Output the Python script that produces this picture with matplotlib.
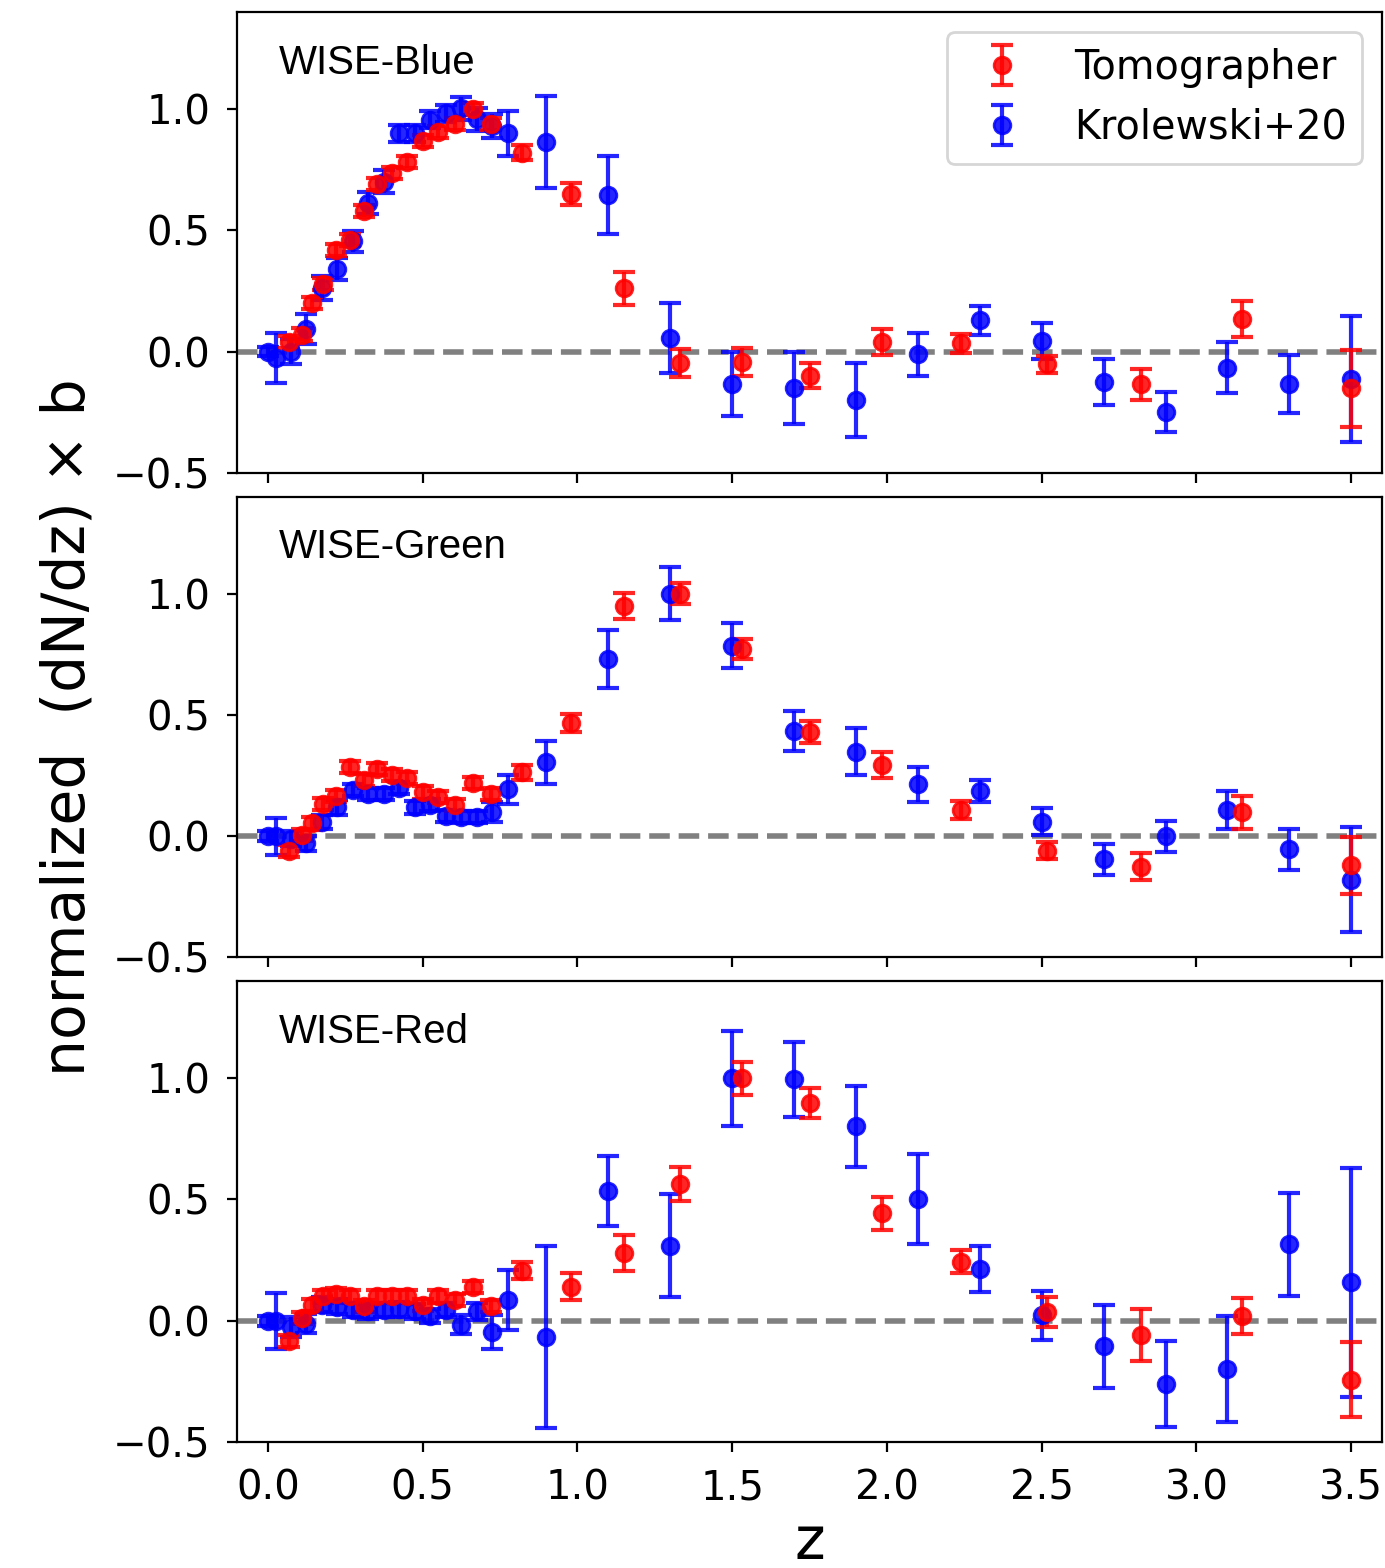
#! /usr/bin/env python

# wise_dndz.py
# Normalized dN/dz x b for the three WISE samples
# Tomographer vs Krolewski+20

import numpy as np
import matplotlib
matplotlib.use('Agg')
import matplotlib.pyplot as plt

# redshift bins
z_tomo = [0.067, 0.11, 0.142, 0.178, 0.221, 0.266, 0.31, 0.353, 0.40, 0.45,
          0.50, 0.55, 0.606, 0.663, 0.72, 0.82, 0.978, 1.15, 1.333, 1.532,
          1.75, 1.985, 2.24, 2.517, 2.82, 3.147, 3.5]
z_krol = [0.0, 0.025, 0.075, 0.125, 0.175, 0.225, 0.275, 0.325, 0.375, 0.425,
          0.475, 0.525, 0.575, 0.625, 0.675, 0.725, 0.775, 0.9, 1.1, 1.3,
          1.5, 1.7, 1.9, 2.1, 2.3, 2.5, 2.7, 2.9, 3.1, 3.3, 3.5]

# WISE-Blue
blue_tomo = [0.04, 0.07, 0.20, 0.28, 0.42, 0.46, 0.58, 0.69, 0.735, 0.78,
             0.87, 0.906, 0.937, 1.0, 0.94, 0.82, 0.65, 0.26, -0.047, -0.044,
             -0.099, 0.038, 0.033, -0.053, -0.136, 0.134, -0.152]
blue_tomo_err = [0.025, 0.025, 0.025, 0.025, 0.025, 0.025, 0.025, 0.025, 0.025, 0.025,
                 0.025, 0.025, 0.025, 0.025, 0.025, 0.032, 0.044, 0.067, 0.058, 0.057,
                 0.05, 0.053, 0.04, 0.036, 0.062, 0.073, 0.16]
blue_krol = [0.0, -0.026, 0.0, 0.093, 0.262, 0.34, 0.454, 0.614, 0.70, 0.90,
             0.90, 0.955, 0.982, 1.003, 0.958, 0.93, 0.90, 0.865, 0.646, 0.056,
             -0.133, -0.152, -0.2, -0.012, 0.128, 0.043, -0.125, -0.25, -0.067, -0.133, -0.115]
blue_krol_err = [0.02, 0.103, 0.05, 0.062, 0.05, 0.045, 0.042, 0.045, 0.048, 0.035,
                 0.035, 0.035, 0.035, 0.048, 0.048, 0.05, 0.093, 0.19, 0.16, 0.145,
                 0.133, 0.148, 0.152, 0.09, 0.06, 0.075, 0.094, 0.084, 0.106, 0.12, 0.26]

# WISE-Green
green_tomo = [-0.061, 0.004, 0.052, 0.132, 0.165, 0.284, 0.231, 0.276, 0.252, 0.238,
              0.18, 0.162, 0.128, 0.22, 0.174, 0.263, 0.466, 0.948, 1.0, 0.773,
              0.428, 0.293, 0.107, -0.06, -0.127, 0.098, -0.12]
green_tomo_err = [0.025, 0.025, 0.025, 0.025, 0.025, 0.025, 0.025, 0.025, 0.025, 0.025,
                  0.025, 0.025, 0.025, 0.025, 0.025, 0.03, 0.037, 0.053, 0.043, 0.042,
                  0.045, 0.053, 0.036, 0.034, 0.056, 0.067, 0.118]
green_krol = [0.0, 0.0, -0.01, -0.03, 0.059, 0.118, 0.19, 0.172, 0.172, 0.2,
              0.118, 0.13, 0.083, 0.08, 0.08, 0.1, 0.193, 0.304, 0.731, 1.0,
              0.785, 0.435, 0.348, 0.213, 0.186, 0.059, -0.096, 0.0, 0.107, -0.055, -0.179]
green_krol_err = [0.02, 0.076, 0.03, 0.03, 0.03, 0.03, 0.025, 0.025, 0.025, 0.025,
                  0.025, 0.025, 0.025, 0.025, 0.025, 0.04, 0.06, 0.09, 0.119, 0.11,
                  0.092, 0.083, 0.096, 0.074, 0.046, 0.055, 0.063, 0.064, 0.077, 0.084, 0.217]

# WISE-Red
red_tomo = [-0.085, 0.011, 0.066, 0.1, 0.11, 0.1, 0.059, 0.1, 0.1, 0.1,
            0.066, 0.1, 0.086, 0.139, 0.059, 0.206, 0.141, 0.279, 0.564, 1.0,
            0.898, 0.443, 0.244, 0.034, -0.058, 0.018, -0.243]
red_tomo_err = [0.025, 0.025, 0.025, 0.025, 0.025, 0.025, 0.025, 0.025, 0.025, 0.025,
                0.025, 0.025, 0.025, 0.025, 0.025, 0.036, 0.057, 0.075, 0.071, 0.069,
                0.062, 0.069, 0.049, 0.062, 0.108, 0.074, 0.154]
red_krol = [0.0, 0.0, -0.026, -0.012, 0.066, 0.058, 0.045, 0.038, 0.045, 0.047,
            0.038, 0.02, 0.045, -0.016, 0.038, -0.047, 0.084, -0.067, 0.535, 0.31,
            1.0, 0.995, 0.802, 0.502, 0.213, 0.022, -0.106, -0.261, -0.198, 0.315, 0.158]
red_krol_err = [0.02, 0.115, 0.04, 0.04, 0.03, 0.03, 0.03, 0.03, 0.03, 0.03,
                0.03, 0.03, 0.03, 0.04, 0.035, 0.07, 0.124, 0.376, 0.145, 0.213,
                0.195, 0.154, 0.168, 0.187, 0.094, 0.1, 0.17, 0.178, 0.218, 0.213, 0.473]

samples = ['WISE-Blue', 'WISE-Green', 'WISE-Red']
tomo = [blue_tomo, green_tomo, red_tomo]
tomo_err = [blue_tomo_err, green_tomo_err, red_tomo_err]
krol = [blue_krol, green_krol, red_krol]
krol_err = [blue_krol_err, green_krol_err, red_krol_err]

fig, axes = plt.subplots(3, 1, sharex=True, figsize=(6.925, 7.84), dpi=200)
fig.subplots_adjust(left=0.171, right=0.998, top=0.9923, bottom=0.0804, hspace=0.052)

for i, ax in enumerate(axes):
    hk = ax.errorbar(z_krol, krol[i], yerr=krol_err[i], fmt='o', color='blue',
                     ms=6, elinewidth=1.5, capsize=4, capthick=1.5, alpha=0.85,
                     label='Krolewski+20')
    ht = ax.errorbar(z_tomo, tomo[i], yerr=tomo_err[i], fmt='o', color='red',
                     ms=6, elinewidth=1.5, capsize=4, capthick=1.5, alpha=0.85,
                     label='Tomographer')
    ax.axhline(0, color='gray', ls='--', lw=2, zorder=0)
    ax.set_xlim(-0.1, 3.6)
    ax.set_ylim(-0.5, 1.4)
    ax.set_yticks([-0.5, 0.0, 0.5, 1.0])
    ax.set_xticks([0.0, 0.5, 1.0, 1.5, 2.0, 2.5, 3.0, 3.5])
    ax.tick_params(labelsize=14.5, pad=6)
    ax.text(0.037, 0.89, samples[i], transform=ax.transAxes, fontsize=14.5,
            family='Liberation Sans', va='center', ha='left')
    if i == 0:
        ax.legend([ht, hk], ['Tomographer', 'Krolewski+20'], loc='upper right', fontsize=14.3)

axes[1].set_ylabel('normalized  (dN/dz) \u00d7 b', fontsize=21, labelpad=6)
axes[2].set_xlabel('z', fontsize=21, labelpad=2)

plt.savefig('out.png', dpi=200)
